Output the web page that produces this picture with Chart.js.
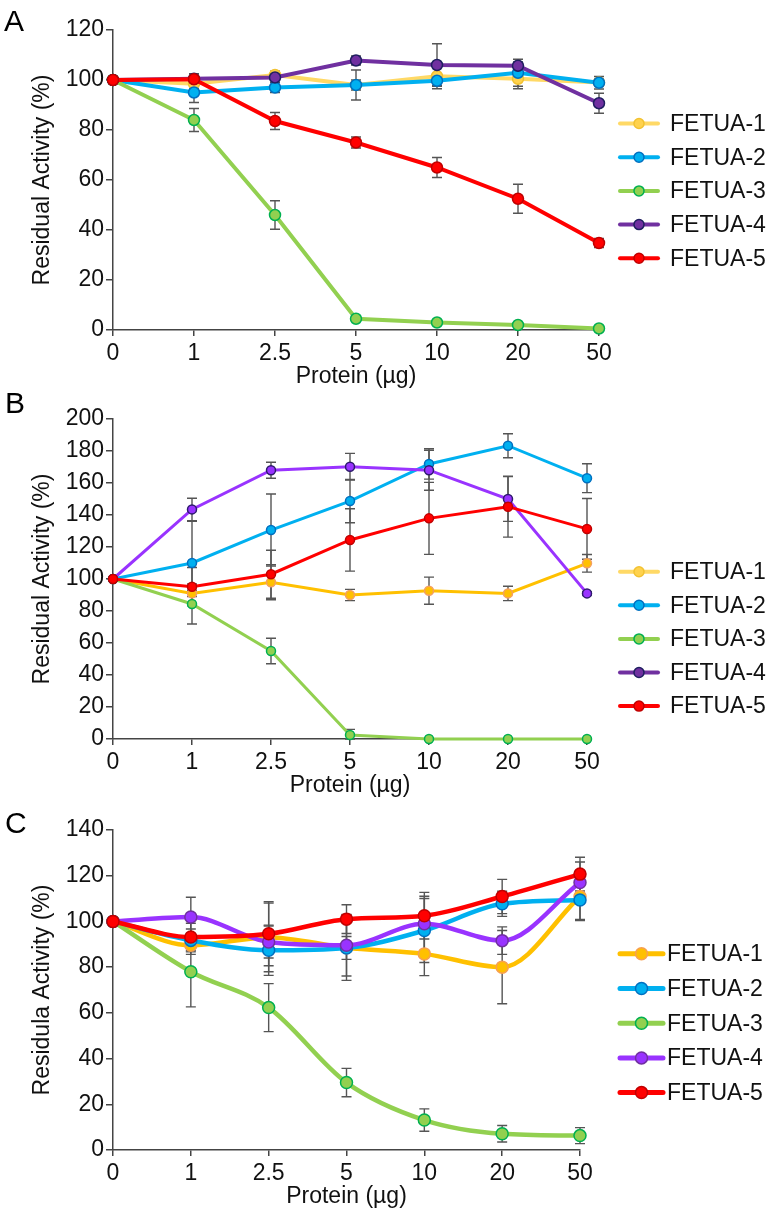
<!DOCTYPE html>
<html>
<head>
<meta charset="utf-8">
<title>FETUA residual activity</title>
<script src="https://cdn.jsdelivr.net/npm/chart.js@4.4.1/dist/chart.umd.min.js"></script>
<style>
  body { margin: 0; background: #fff; width: 771px; height: 1211px; position: relative; overflow: hidden;
         font-family: "Liberation Sans", Arial, sans-serif; }
  canvas { position: absolute; left: 0; }
  .tag { position: absolute; font-size: 30px; line-height: 30px; color: #000; }
</style>
</head>
<body>
<canvas id="chartA" width="771" height="400" style="top:0px"></canvas>
<canvas id="chartB" width="771" height="410" style="top:400px"></canvas>
<canvas id="chartC" width="771" height="411" style="top:800px"></canvas>
<div class="tag" style="left:4px;top:6px">A</div>
<div class="tag" style="left:5px;top:388px">B</div>
<div class="tag" style="left:5px;top:808px">C</div>

<script>
// x categories (protein amount, µg)
const doses = ['0', '1', '2.5', '5', '10', '20', '50'];
const seriesNames = ['FETUA-1', 'FETUA-2', 'FETUA-3', 'FETUA-4', 'FETUA-5'];

// panel A – residual activity (%) and error bar half-widths
const aFetua1 = [100, 98.5, 102, 98, 101.5, 100.5, 99];
const aFetua2 = [100, 95, 97, 98, 99.7, 102.9, 98.9];
const aFetua3 = [100, 84, 46, 4.5, 3, 2, 0.6];
const aFetua4 = [100, 100.5, 101, 107.8, 106, 105.7, 90.7];
const aFetua5 = [100, 100.3, 83.6, 75, 65, 52.5, 34.8];
const aErr1 = [0, 2, 1.5, 2, 5, 4, 1.5];
const aErr2 = [0, 4, 2, 6, 2, 5.4, 2.5];
const aErr3 = [0, 4.6, 5.7, 1, 0.8, 0.8, 0.5];
const aErr4 = [0, 2, 1, 1.8, 8.5, 1.5, 4];
const aErr5 = [0, 1.5, 3.4, 2.2, 4, 5.8, 1.8];

// panel B
const bFetua1 = [100, 91, 98, 90, 92.7, 91, 109.8];
const bFetua2 = [100, 110, 130.6, 148.7, 171.9, 183.3, 163];
const bFetua3 = [100, 84.4, 55, 2.5, 0, 0, 0];
const bFetua4 = [100, 143.5, 168, 170.2, 168, 150, 91];
const bFetua5 = [100, 95.2, 103, 124.4, 137.9, 145.2, 131.3];
const bErr1 = [0, 2, 11, 3.5, 8.5, 4.5, 5.5];
const bErr2 = [0, 26, 22.5, 13.5, 9.5, 7.5, 9];
const bErr3 = [0, 12.5, 8, 3.5, 0.5, 0.5, 0.5];
const bErr4 = [0, 7, 5, 8.3, 12.5, 14, 1];
const bErr5 = [0, 12, 15, 19.5, 22.5, 19, 19];

// panel C
const cFetua1 = [100, 89.6, 93, 88.5, 85.8, 80, 110.9];
const cFetua2 = [100, 91.7, 87.4, 88.4, 96, 107.7, 109.4];
const cFetua3 = [100, 78, 62.3, 29.5, 13.1, 7.1, 6.3];
const cFetua4 = [100, 101.9, 91, 89.6, 99, 91.6, 117];
const cFetua5 = [100, 93.2, 94.6, 101, 102.5, 110.9, 120.7];
const cErr1 = [0, 4, 15, 14.3, 9.5, 16, 10];
const cErr2 = [0, 5, 11, 5, 14, 5.5, 9];
const cErr3 = [0, 15.4, 10.5, 6.2, 4.9, 3.6, 3.5];
const cErr4 = [0, 8.7, 7, 13.5, 12, 6, 9];
const cErr5 = [0, 6, 14, 6.3, 10.2, 7.5, 7.4];

const colorsA = [
  { line: '#FFD966', fill: '#FFD24D', border: '#F2C232' },
  { line: '#00B0F0', fill: '#00B0F0', border: '#0070C0' },
  { line: '#92D050', fill: '#92D050', border: '#00B050' },
  { line: '#7030A0', fill: '#7030A0', border: '#1F1F60' },
  { line: '#FF0000', fill: '#FF0000', border: '#C00000' }
];
const colorsB = [
  { line: '#FFC000', fill: '#FFC000', border: '#F4A060' },
  { line: '#00B0F0', fill: '#00B0F0', border: '#0070C0' },
  { line: '#92D050', fill: '#92D050', border: '#00B050' },
  { line: '#9933FF', fill: '#9933FF', border: '#2E1A6E' },
  { line: '#FF0000', fill: '#FF0000', border: '#C00000' }
];
const colorsC = [
  { line: '#FFC000', fill: '#FFC000', border: '#F7A050' },
  { line: '#00B0F0', fill: '#00B0F0', border: '#0070C0' },
  { line: '#92D050', fill: '#92D050', border: '#00B050' },
  { line: '#9933FF', fill: '#9933FF', border: '#7030A0' },
  { line: '#FF0000', fill: '#FF0000', border: '#C00000' }
];

const FONT = '"Liberation Sans", Arial, sans-serif';
const INK = '#111';
const AXIS = '#444';

// vertical error bars, drawn under the lines
const errorBars = {
  id: 'errorBars',
  beforeDatasetsDraw(chart) {
    const { ctx, scales: { x, y } } = chart;
    ctx.save();
    ctx.strokeStyle = '#555';
    ctx.lineWidth = 1.4;
    chart.data.datasets.forEach(ds => {
      ds.data.forEach((v, i) => {
        const e = ds.errors[i];
        if (!e) return;
        const px = x.getPixelForValue(i);
        const top = y.getPixelForValue(v + e);
        const bot = y.getPixelForValue(Math.max(0, v - e));
        ctx.beginPath();
        ctx.moveTo(px, top); ctx.lineTo(px, bot);
        ctx.moveTo(px - 5, top); ctx.lineTo(px + 5, top);
        ctx.moveTo(px - 5, bot); ctx.lineTo(px + 5, bot);
        ctx.stroke();
      });
    });
    ctx.restore();
  }
};

// legend on the right: line with a marker, then the name
const sideLegend = {
  id: 'sideLegend',
  afterDraw(chart, args, opts) {
    const ctx = chart.ctx;
    ctx.save();
    opts.items.forEach((it, i) => {
      const y = opts.top + i * opts.gap;
      ctx.lineCap = 'round';
      ctx.strokeStyle = it.line;
      ctx.lineWidth = opts.lineWidth;
      ctx.beginPath();
      ctx.moveTo(opts.x, y);
      ctx.lineTo(opts.x + opts.length, y);
      ctx.stroke();
      ctx.beginPath();
      ctx.arc(opts.x + opts.length / 2, y, opts.radius, 0, Math.PI * 2);
      ctx.fillStyle = it.fill;
      ctx.fill();
      ctx.lineWidth = 1.5;
      ctx.strokeStyle = it.border;
      ctx.stroke();
      ctx.fillStyle = INK;
      ctx.font = '23px ' + FONT;
      ctx.textBaseline = 'middle';
      ctx.fillText(seriesNames[i], opts.textX, y + 1);
    });
    ctx.restore();
  }
};

function buildChart(id, p) {
  const font = { family: FONT, size: 23 };
  return new Chart(document.getElementById(id), {
    type: 'line',
    data: {
      labels: doses,
      datasets: p.series.map((vals, i) => ({
        label: seriesNames[i],
        data: vals,
        errors: p.errors[i],
        borderColor: p.colors[i].line,
        backgroundColor: p.colors[i].line,
        pointBackgroundColor: p.colors[i].fill,
        pointBorderColor: p.colors[i].border,
        borderWidth: p.lineWidth,
        pointRadius: p.radius,
        pointBorderWidth: 1.5,
        tension: 0,
        cubicInterpolationMode: p.smooth ? 'monotone' : 'default',
        order: seriesNames.length - i,
        clip: false
      }))
    },
    options: {
      responsive: false,
      animation: false,
      devicePixelRatio: 1,
      events: [],
      layout: { padding: p.padding },
      plugins: {
        legend: { display: false },
        tooltip: { enabled: false },
        sideLegend: p.legend
      },
      scales: {
        x: {
          type: 'category',
          offset: false,
          ticks: { font, color: INK, padding: 4, maxRotation: 0, autoSkip: false },
          grid: { drawOnChartArea: false, drawTicks: true, tickLength: 6, color: AXIS, lineWidth: 1.5 },
          border: { display: true, color: AXIS, width: 1.5 },
          title: { display: true, text: 'Protein (µg)', font, color: INK, padding: 0 },
          afterFit(s) { s.height = 60; }
        },
        y: {
          min: 0,
          max: p.yMax,
          ticks: { stepSize: 20, font, color: INK, padding: 2 },
          grid: { drawOnChartArea: false, drawTicks: true, tickLength: 7, color: AXIS, lineWidth: 1.5 },
          border: { display: true, color: AXIS, width: 1.5 },
          title: { display: true, text: p.yTitle, font, color: INK, padding: 0 },
          afterFit(s) { s.width = 84; }
        }
      }
    },
    plugins: [errorBars, sideLegend]
  });
}

buildChart('chartA', {
  series: [aFetua1, aFetua2, aFetua3, aFetua4, aFetua5],
  errors: [aErr1, aErr2, aErr3, aErr4, aErr5],
  colors: colorsA,
  lineWidth: 4,
  radius: 5.5,
  yMax: 120,
  yTitle: 'Residual Activity (%)',
  padding: { left: 29, right: 172, top: 30, bottom: 10 },
  legend: { items: colorsA, x: 620, length: 38, top: 123.5, gap: 33.7, textX: 670, radius: 5, lineWidth: 4 }
});

buildChart('chartB', {
  series: [bFetua1, bFetua2, bFetua3, bFetua4, bFetua5],
  errors: [bErr1, bErr2, bErr3, bErr4, bErr5],
  colors: colorsB,
  lineWidth: 3,
  radius: 4.5,
  yMax: 200,
  yTitle: 'Residual Activity (%)',
  padding: { left: 29, right: 184, top: 19, bottom: 11 },
  legend: { items: colorsA, x: 620, length: 38, top: 171.7, gap: 33.6, textX: 670, radius: 5, lineWidth: 4 }
});

buildChart('chartC', {
  series: [cFetua1, cFetua2, cFetua3, cFetua4, cFetua5],
  errors: [cErr1, cErr2, cErr3, cErr4, cErr5],
  colors: colorsC,
  lineWidth: 4.5,
  radius: 6,
  smooth: true,
  yMax: 140,
  yTitle: 'Residula Activity (%)',
  padding: { left: 29, right: 191, top: 30, bottom: 1 },
  legend: { items: colorsC, x: 620, length: 43, top: 153.8, gap: 34.7, textX: 667, radius: 6, lineWidth: 5 }
});
</script>
</body>
</html>
